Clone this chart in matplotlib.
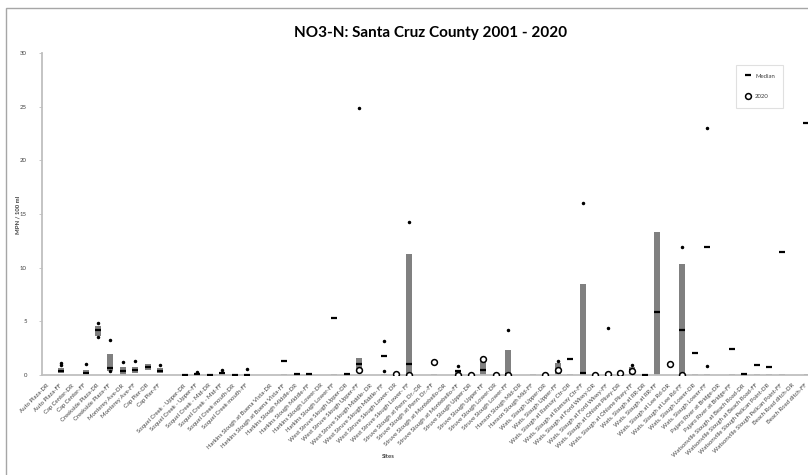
import numpy as np
import matplotlib
matplotlib.use("Agg")
from matplotlib import pyplot as plt
from matplotlib.lines import Line2D
from matplotlib.patches import Rectangle
from matplotlib.transforms import ScaledTranslation

nan = np.nan

sites = [
    "Auto Plaza-DR", "Auto Plaza-FF", "Cap Center-DR", "Cap Center-FF",
    "Creekside Plaza-DR", "Creekside Plaza-FF", "Monterey Ave-DR", "Monterey Ave-FF",
    "Cap Pier-DR", "Cap Pier-FF", "",
    "Soquel Creek - Upper-DR", "Soquel Creek - Upper-FF", "Soquel Creek - Mid-DR",
    "Soquel Creek - Mid-FF", "Soquel Creek mouth-DR", "Soquel Creek mouth-FF", "",
    "Harkins Slough at Buena Vista-DR", "Harkins Slough at Buena Vista-FF",
    "Harkins Slough Middle-DR", "Harkins Slough Middle-FF",
    "Harkins Slough Lower-DR", "Harkins Slough Lower-FF",
    "West Struve Slough Upper-DR", "West Struve Slough Upper-FF",
    "West Struve Slough Middle- DR", "West Struve Slough Middle- FF",
    "West Struve Slough Lower- DR", "West Struve Slough Lower- FF",
    "Struve Slough at Penn. Dr.-DR", "Struve Slough at Penn. Dr.-FF",
    "Struve Slough at Montebello-DR", "Struve Slough at Montebello-FF",
    "Struve Slough Upper-DR", "Struve Slough Upper-FF",
    "Struve Slough Lower-DR", "Struve Slough Lower-FF",
    "Hanson Slough Mid-DR", "Hanson Slough Mid-FF",
    "Wats. Slough Upper-DR", "Wats. Slough Upper-FF",
    "Wats. Slough at Ramsay Ctr-DR", "Wats. Slough at Ramsay Ctr-FF",
    "Wats. Slough at Ford Wkwy-DR", "Wats. Slough at Ford Wkwy-FF",
    "Wats. Slough at Ohlone Pkwy-DR", "Wats. Slough at Ohlone Pkwy-FF",
    "Wats. Slough at RR-DR", "Wats. Slough at RR-FF",
    "Wats. Slough at Lee Rd-DR", "Wats. Slough at Lee Rd-FF",
    "Wats. Slough Lower-DR", "Wats. Slough Lower-FF",
    "Pajaro River at Bridge-DR", "Pajaro River at Bridge-FF",
    "Watsonville Slough at Beach Road-DR", "Watsonville Slough at Beach Road-FF",
    "Watsonville Slough Pelican Point-DR", "Watsonville Slough Pelican Point-FF",
    "Beach Road ditch-DR", "Beach Road ditch-FF",
]

# lower / upper quartile (grey bar)
q1 = [nan, 0.21, nan, 0.08, 3.63, 0.40, 0.00, 0.22, 0.47, 0.22, nan,
      0.0, 0.0, 0.0, 0.0, nan, nan, nan,
      nan, 0.0, nan, 0.0, nan, 0.0, 0.0, 0.45, nan, 0.0, nan, 0.0,
      nan, 0.0, nan, 0.05, nan, 0.0, nan, 0.0, nan, 0.0,
      nan, 0.0, 0.0, 0.0, nan, nan, nan, 0.0, nan, 0.0,
      nan, 0.0, 0.0, 0.0, nan, 0.0, nan, 0.0, 0.0, 0.0, nan, 0.0]
q3 = [nan, 0.62, nan, 0.45, 4.57, 1.95, 0.78, 0.78, 1.00, 0.62, nan,
      0.06, 0.15, 0.04, 0.30, nan, nan, nan,
      nan, 0.10, nan, 0.20, nan, 0.10, 0.10, 1.55, nan, 0.10, nan, 11.25,
      nan, 0.10, nan, 0.50, nan, 1.46, nan, 2.33, nan, 0.10,
      nan, 1.15, 0.10, 8.45, nan, nan, nan, 0.75, nan, 13.3,
      nan, 10.3, 0.10, 0.10, nan, 0.10, nan, 0.10, 0.10, 0.10, nan, 0.10]
median = [nan, 0.40, nan, 0.22, 4.16, 0.62, 0.40, 0.47, 0.72, 0.40, nan,
          0.03, 0.10, 0.02, 0.15, 0.02, 0.03, nan,
          nan, 1.30, 0.05, 0.10, nan, 5.30, 0.10, 1.05, nan, 1.77, nan, 1.06,
          nan, 1.15, nan, 0.35, nan, 0.47, nan, 0.10, nan, nan,
          nan, 0.40, 1.46, 0.22, nan, 0.10, nan, 0.45, 0.03, 5.84,
          nan, 4.19, 2.08, 11.96, nan, 2.39, 0.05, 0.93, 0.72, 11.5, nan, 23.5]
high = [nan, 1.08, nan, 1.06, 4.80, 3.26, 1.18, 1.27, nan, 0.93, nan,
        nan, 0.30, nan, 0.42, nan, 0.53, nan,
        nan, nan, nan, nan, nan, nan, nan, 24.9, nan, 3.17, nan, 14.3,
        nan, nan, nan, 0.85, nan, nan, nan, 4.16, nan, nan,
        nan, 1.35, nan, 16.0, nan, 4.40, nan, 0.93, nan, nan,
        nan, 11.96, nan, 23.0, nan, nan, nan, nan, nan, nan, nan, nan]
low = [nan, 0.93, nan, nan, 3.50, 0.35, nan, nan, nan, nan, nan,
       nan, nan, nan, nan, nan, nan, nan,
       nan, nan, nan, nan, nan, nan, nan, nan, nan, 0.40, nan, nan,
       nan, nan, nan, nan, nan, nan, nan, nan, nan, nan,
       nan, nan, nan, nan, nan, nan, nan, nan, nan, nan,
       nan, nan, nan, 0.87, nan, nan, nan, nan, nan, nan, nan, nan]
y2020 = [nan, nan, nan, nan, nan, nan, nan, nan, nan, nan, nan,
         nan, nan, nan, nan, nan, nan, nan,
         nan, nan, nan, nan, nan, nan, nan, 0.47, nan, nan, 0.05, 0.02,
         nan, 1.18, nan, 0.03, 0.03, 1.49, 0.03, 0.03, nan, nan,
         0.03, 0.45, nan, nan, 0.03, 0.05, 0.15, 0.37, nan, nan,
         1.06, 0.02, nan, nan, nan, nan, nan, nan, nan, nan, nan, nan]
yticks = [0, 5, 10, 15, 20, 25, 30]

plt.rcParams['font.family'] = ['Lato', 'DejaVu Sans']

fig = plt.figure(figsize=(8.08, 4.75), dpi=100)
fig.patches.append(Rectangle((6 / 808, -0.1), 2, 0.1 + 467 / 475, transform=fig.transFigure,
                             fill=False, edgecolor='#a6a6a6', lw=1.0))
ax = fig.add_axes([42.1 / 808, 100 / 475, 770.6 / 808, 322 / 475])

x = np.arange(len(sites))
q1a = np.array(q1)
q3a = np.array(q3)
ax.bar(x, q3a - q1a, bottom=q1a, width=0.48, color='#808080', zorder=2)
ax.plot(x, median, ls='none', marker='_', ms=4.6, mew=1.6, color='black', zorder=3)
ax.plot(x, high, ls='none', marker='o', ms=1.5, color='black', zorder=3)
ax.plot(x, low, ls='none', marker='o', ms=1.5, color='black', zorder=3)
ax.plot(x, y2020, ls='none', marker='o', ms=4.2, mew=1.1, mec='black', mfc='white', zorder=4)

ax.set_xlim(-0.5, len(sites) - 0.5)
ax.set_ylim(0, 30)
ax.set_yticks(yticks)
ax.set_xticks(x)
ax.set_xticklabels(sites, rotation=45, ha='right', va='center', rotation_mode='anchor')
off = ScaledTranslation(-5 / 100, 0, fig.dpi_scale_trans)
for lab in ax.get_xticklabels():
    lab.set_transform(lab.get_transform() + off)
ax.tick_params(axis='x', length=0, pad=7, labelsize=4.3, labelcolor='#404040')
ax.tick_params(axis='y', length=2, width=0.6, color='#bfbfbf', pad=9, labelsize=4.3, labelcolor='#404040')
for s in ['top', 'right']:
    ax.spines[s].set_visible(False)
for s in ['left', 'bottom']:
    ax.spines[s].set_color('#bfbfbf')
    ax.spines[s].set_linewidth(1.3)

fig.text(431 / 808, 1 - 33 / 475, "NO3-N: Santa Cruz County 2001 - 2020", ha='center', va='center',
         fontsize=11, fontweight='bold')
fig.text(18 / 808, 1 - 215 / 475, "MPN / 100 ml", rotation=90, ha='center', va='center',
         fontsize=4.3, fontweight='bold', color='#404040')
fig.text(388 / 808, 1 - 457 / 475, "Sites", ha='center', va='center',
         fontsize=4.3, fontweight='bold', color='#404040')

handles = [Line2D([], [], ls='none', marker='_', ms=4.6, mew=1.6, color='black'),
           Line2D([], [], ls='none', marker='o', ms=4.2, mew=1.1, mec='black', mfc='white')]
leg = ax.legend(handles, ['Median', '2020'], loc='upper left',
                bbox_to_anchor=(733 / 808, 1 - 62 / 475), bbox_transform=fig.transFigure,
                fontsize=4.3, frameon=True, fancybox=False, edgecolor='#d9d9d9',
                labelspacing=2.6, handlelength=1.2, borderpad=1.4, handletextpad=0.6)
leg.get_frame().set_linewidth(0.8)
for t in leg.get_texts():
    t.set_color('#404040')

fig.savefig("out.png", dpi=100)
